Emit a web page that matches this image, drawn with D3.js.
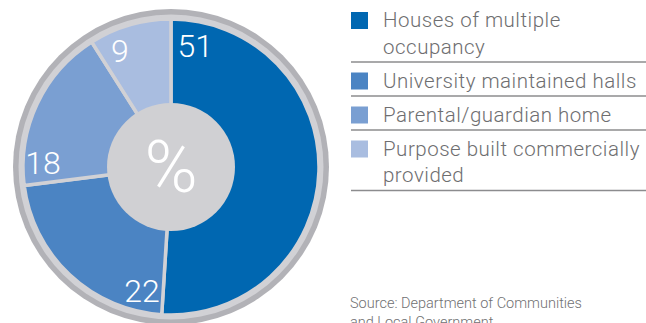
<!DOCTYPE html>
<html>
<head>
<meta charset="utf-8">
<script src="https://cdn.jsdelivr.net/npm/d3@7"></script>
<style>
  html, body { margin: 0; padding: 0; background: #fff; }
  svg { display: block; }
  text { font-family: Roboto, "Liberation Sans", sans-serif; }
</style>
</head>
<body>
<svg id="chart" width="646" height="323"></svg>
<script>
// Student accommodation types, share in per cent
const categories = [
  ["Houses of multiple", "occupancy"],
  ["University maintained halls"],
  ["Parental/guardian home"],
  ["Purpose built commercially", "provided"]
];
const values = [51, 22, 18, 9];
const colors = ["#0067b1", "#4b84c3", "#7a9fd2", "#a9bde0"];
const sourceLines = ["Source: Department of Communities", "and Local Government"];

const svg = d3.select("#chart");
const W = 646, H = 323;

// ---- Donut ----
const cx = 171, cy = 167;
const rOuter = 158, rLight = 152.5, rSlice = 148, rInner = 64;

const g = svg.append("g").attr("transform", `translate(${cx},${cy})`);

g.append("circle").attr("r", rOuter).attr("fill", "#b2b2b7");
g.append("circle").attr("r", rLight).attr("fill", "#d1d1d5");

const pie = d3.pie().sort(null).value(d => d);
const arcs = pie(values);
const arc = d3.arc().innerRadius(0).outerRadius(rSlice);

g.selectAll("path.slice")
  .data(arcs)
  .join("path")
  .attr("class", "slice")
  .attr("d", arc)
  .attr("fill", (d, i) => colors[i])
  .attr("stroke", "#d1d1d5")
  .attr("stroke-width", 3.5)
  .attr("stroke-linejoin", "miter");

g.append("circle").attr("r", rInner).attr("fill", "#d0d0d3");

g.append("text")
  .attr("x", 0).attr("y", 25)
  .attr("text-anchor", "middle")
  .attr("fill", "#fff")
  .attr("font-weight", 300)
  .attr("font-size", 72)
  .text("%");

// value labels sit just past the leading edge of each slice
const labelR = 127, labelShift = 0.16, labelSize = 32;
g.selectAll("text.val")
  .data(arcs)
  .join("text")
  .attr("class", "val")
  .attr("x", d => labelR * Math.sin(d.startAngle + labelShift) + (d.startAngle < Math.PI ? 4 : -1))
  .attr("y", d => -labelR * Math.cos(d.startAngle + labelShift) + labelSize * 0.36 + (d.startAngle < Math.PI ? 4 : 0))
  .attr("text-anchor", "middle")
  .attr("fill", "#fff")
  .attr("font-weight", 300)
  .attr("font-size", labelSize)
  .text(d => d.data);

// ---- Legend ----
const lx = 351, tx = 383, lineGap = 26.5;
const legend = svg.append("g");
let sepY = 1.5;
categories.forEach((lines, i) => {
  const base = sepY + 25.5;
  legend.append("rect")
    .attr("x", lx).attr("y", base - 15)
    .attr("width", 17).attr("height", 17)
    .attr("fill", colors[i]);
  lines.forEach((s, j) => {
    legend.append("text")
      .attr("x", tx).attr("y", base + j * lineGap)
      .attr("fill", "#6e6e70")
      .attr("font-weight", 300)
      .attr("font-size", 20.5)
      .attr("letter-spacing", 0.5)
      .text(s);
  });
  sepY = base + (lines.length - 1) * lineGap + 8.5;
  legend.append("line")
    .attr("x1", lx).attr("x2", W)
    .attr("y1", sepY).attr("y2", sepY)
    .attr("stroke", "#8c8c8e")
    .attr("stroke-width", 1.5);
});

// ---- Source note ----
sourceLines.forEach((s, j) => {
  svg.append("text")
    .attr("x", 350).attr("y", 308 + j * 19)
    .attr("fill", "#707072")
    .attr("font-weight", 300)
    .attr("font-size", 14.5)
    .text(s);
});
</script>
</body>
</html>
